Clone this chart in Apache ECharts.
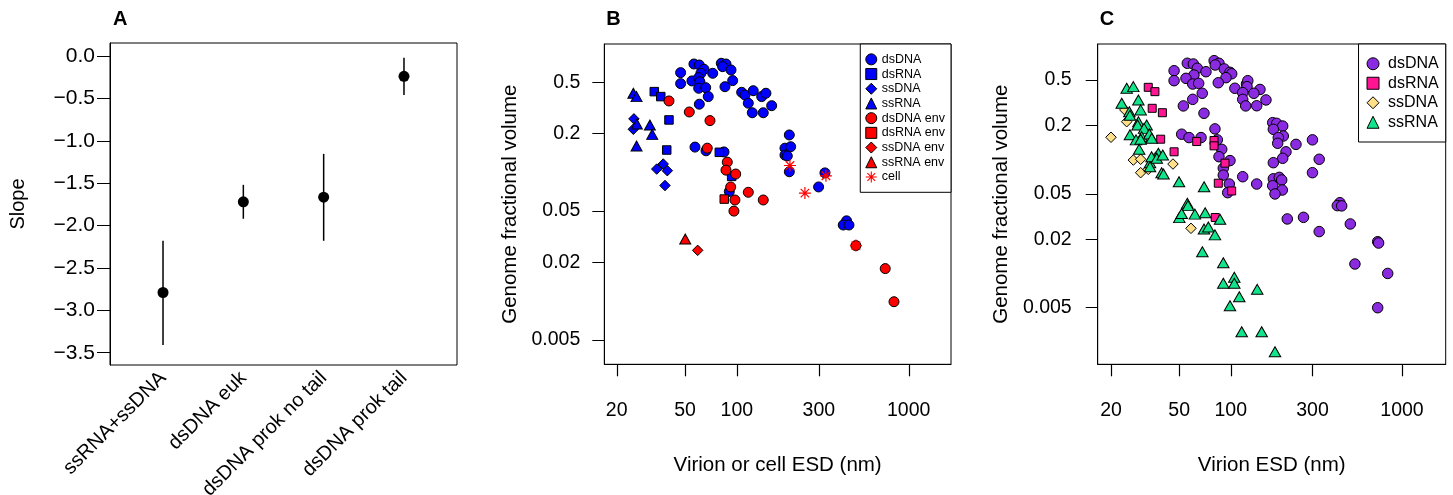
<!DOCTYPE html>
<html><head><meta charset="utf-8">
<script src="https://cdn.jsdelivr.net/npm/echarts@6.0.0/dist/echarts.min.js"></script>
<style>
html,body{margin:0;padding:0;background:#fff;}
#wrap{position:relative;width:1453px;height:495px;overflow:hidden;}
.p{position:absolute;top:0;height:495px;}
</style></head><body>
<div id="wrap">
<div id="pa" class="p" style="left:0;width:480px"></div>
<div id="pb" class="p" style="left:470px;width:530px"></div>
<div id="pc" class="p" style="left:975px;width:478px"></div>
</div>
<script>
// ---------- Panel A data ----------
const categoriesA = ['ssRNA+ssDNA', 'dsDNA euk', 'dsDNA prok no tail', 'dsDNA prok tail'];
const slopeA = [-2.79, -1.72, -1.665, -0.24];
const lowerA = [-3.41, -1.92, -2.18, -0.46];
const upperA = [-2.18, -1.52, -1.155, -0.02];
const yTicksA = [0, -0.5, -1, -1.5, -2, -2.5, -3, -3.5];

// ---------- shared tick labels for B and C ----------
const xTicksESD = [20, 50, 100, 300, 1000];
const yTicksFrac = [0.5, 0.2, 0.05, 0.02, 0.005];

// ---------- Panel B data: [ESD nm, genome fractional volume] ----------
const bDsDNA = [[47.1,0.594],[47.1,0.488],[56.3,0.693],[60.5,0.681],[64.4,0.631],[72.4,0.587],[61.8,0.587],[54.8,0.512],[60.0,0.543],[61.0,0.505],[60.0,0.449],[65.9,0.454],[68.2,0.387],[60.5,0.338],[81.2,0.702],[86.5,0.693],[82.7,0.661],[92.5,0.623],[94.6,0.515],[85.3,0.462],[106.7,0.418],[111.5,0.398],[124.6,0.430],[116.6,0.344],[123,0.290],[142.5,0.290],[139.5,0.387],[147.7,0.411],[159.5,0.329],[57.1,0.157],[66.2,0.147],[84.2,0.144],[90.4,0.071],[202,0.195],[190.6,0.154],[205.7,0.158],[190.6,0.136],[196.6,0.134],[202,0.101],[299,0.077],[325.6,0.099],[435,0.042],[416,0.039],[449,0.039]];
const bDsRNA = [[33.1,0.423],[36.1,0.387],[40.3,0.255],[39.1,0.149],[79.1,0.143],[93.3,0.093]];
const bSsDNA = [[25.2,0.260],[25.0,0.216],[37.3,0.116],[34.2,0.106],[39.4,0.103],[38.2,0.079]];
const bSsRNA = [[25.0,0.411],[26.1,0.387],[26.2,0.237],[31.2,0.233],[32.2,0.197],[26.1,0.160]];
const bDsDNAenv = [[40.3,0.358],[52.9,0.294],[69.8,0.252],[67.3,0.154],[88.0,0.120],[86.5,0.104],[98.5,0.097],[92.1,0.077],[97.5,0.061],[96.2,0.050],[116.6,0.070],[142.5,0.061],[493,0.027],[730,0.0179],[821,0.0099]];
const bDsRNAenv = [[84.5,0.062]];
const bSsDNAenv = [[59.2,0.0248]];
const bSsRNAenv = [[50.1,0.0304]];
const bCell = [[203.8,0.113],[249,0.069],[330,0.094],[493,0.027]];

// ---------- Panel C data ----------
const cDsDNA = [[46.7,0.603],[46.7,0.493],[55.8,0.701],[60.5,0.691],[63.8,0.634],[71.7,0.591],[61.0,0.553],[54.8,0.517],[60.0,0.461],[65.0,0.467],[68.2,0.382],[60.0,0.338],[52.9,0.296],[80.0,0.739],[85.4,0.701],[81.2,0.677],[91.7,0.625],[99.0,0.584],[101.3,0.567],[93.8,0.524],[84.6,0.473],[105.7,0.423],[123.6,0.461],[125.8,0.493],[124.5,0.437],[148.2,0.413],[117.5,0.387],[136.5,0.382],[117.5,0.338],[160.6,0.334],[122.3,0.296],[141.8,0.297],[69.8,0.255],[80.9,0.186],[51.7,0.167],[57.1,0.156],[67.1,0.156],[83.5,0.149],[88.6,0.123],[85.4,0.106],[99.0,0.098],[90.5,0.084],[90.5,0.073],[117.5,0.0707],[141.8,0.061],[98.1,0.061],[96.0,0.0512],[175.8,0.211],[185.5,0.208],[201.1,0.197],[177.3,0.1845],[202.7,0.161],[189.5,0.156],[188,0.139],[210.2,0.117],[240.4,0.136],[300,0.149],[201.1,0.1026],[177.3,0.0939],[328.5,0.1006],[300,0.0767],[177.3,0.0678],[192.1,0.0698],[198.4,0.0662],[175.8,0.0589],[200,0.054],[181.3,0.0499],[434,0.0418],[419,0.0394],[444.5,0.0392],[213.9,0.0301],[266,0.0311],[499,0.0272],[328.5,0.0233],[721,0.019],[730,0.0185],[531,0.0121],[825,0.01],[721,0.005]];
const cDsRNA = [[33.0,0.431],[36.1,0.395],[34.8,0.282],[39.9,0.258],[39.0,0.151],[46.7,0.117],[63.3,0.144],[79.9,0.147],[79.9,0.132],[92.6,0.093],[84.6,0.062],[101.3,0.053],[81.2,0.031]];
const cSsDNA = [[20,0.157],[24.7,0.215],[24.1,0.273],[27.0,0.099],[29.8,0.1006],[37.0,0.107],[46.0,0.0914],[29.8,0.0767],[33.0,0.0821],[58.6,0.0249]];
const cSsRNA = [[24.7,0.423],[27.0,0.437],[23.1,0.312],[28.9,0.334],[29.8,0.273],[25.6,0.263],[25.8,0.245],[28.9,0.215],[28.6,0.201],[32.3,0.201],[31.2,0.188],[25.8,0.165],[30.2,0.159],[33.5,0.168],[28.0,0.149],[29.8,0.151],[34.6,0.154],[29.2,0.123],[37.8,0.1135],[33.8,0.0939],[34.5,0.106],[37.0,0.1026],[40.1,0.1097],[39.5,0.0767],[40.5,0.0746],[33.8,0.0866],[49.9,0.0639],[69.9,0.0578],[55.8,0.0413],[56.3,0.0394],[50.1,0.0309],[51.7,0.0336],[61.8,0.0332],[70.9,0.0341],[86.6,0.0299],[69.8,0.0246],[74.0,0.0256],[80.9,0.0218],[68.3,0.0155],[90.5,0.0124],[104.9,0.00925],[90.5,0.00819],[104.9,0.00819],[142.8,0.00725],[112.2,0.00625],[99.0,0.0052],[115.9,0.00308],[151.6,0.00308],[181.3,0.00205]];

// ---------- styling ----------
const FONT = "'Liberation Sans', Arial, Helvetica, sans-serif";
const BLACK = '#000000';
const ASTERISK = 'path://M-1,-10L1,-10L1,10L-1,10Z M-10,-1L10,-1L10,1L-10,1Z M-7.78,-6.36L-6.36,-7.78L7.78,6.36L6.36,7.78Z M6.36,-7.78L7.78,-6.36L-6.36,7.78L-7.78,6.36Z';
const TICK_FS = 19.5, NAME_FS = 20.5, TICK_LEN = 12;
const AXLINE = { show: true, onZero: false, lineStyle: { color: BLACK, width: 1 } };

function fmtLog(v) { return String(Number(Math.pow(10, v).toPrecision(4))); }
const lg = (a) => a.map(Math.log10);

function scatter(name, data, symbol, size, color, border) {
  return {
    type: 'scatter', name: name, silent: true,
    data: data.map(d => [Math.log10(d[0]), Math.log10(d[1])]),
    symbol: symbol, symbolSize: size,
    itemStyle: { color: color, borderColor: BLACK, borderWidth: border ? 1 : 0, opacity: 1 },
    emphasis: { disabled: true }
  };
}

function logPanel(cfg) {
  return {
    animation: false,
    textStyle: { fontFamily: FONT },
    title: { text: cfg.letter, left: cfg.gridLeft + 2, top: 9, padding: 0,
      textStyle: { fontSize: 20, fontWeight: 'bold', color: BLACK, fontFamily: FONT } },
    grid: { left: cfg.gridLeft, top: 44, width: cfg.gridW, height: 320.3, show: true,
      borderColor: BLACK, borderWidth: 1, backgroundColor: 'transparent', outerBoundsMode: 'none' },
    xAxis: { type: 'value', min: cfg.xMin, max: cfg.xMax, position: 'bottom',
      axisLine: AXLINE, splitLine: { show: false },
      axisTick: { show: false },
      axisLabel: { customValues: lg(xTicksESD), formatter: fmtLog, margin: 36, fontSize: TICK_FS, color: BLACK, fontFamily: FONT },
      name: cfg.xName, nameLocation: 'middle', nameGap: 90.5,
      nameTextStyle: { fontSize: NAME_FS, color: BLACK, fontFamily: FONT } },
    yAxis: { type: 'value', min: cfg.yMin, max: cfg.yMax, position: 'left',
      axisLine: AXLINE, splitLine: { show: false },
      axisTick: { show: true, inside: false, length: TICK_LEN, customValues: lg(yTicksFrac), lineStyle: { color: BLACK, width: 1 } },
      axisLabel: { customValues: lg(yTicksFrac), formatter: fmtLog, margin: cfg.yMargin, fontSize: TICK_FS, color: BLACK, fontFamily: FONT },
      name: 'Genome fractional volume', nameLocation: 'middle', nameGap: cfg.yNameGap,
      nameTextStyle: { fontSize: NAME_FS, color: BLACK, fontFamily: FONT } },
    legend: cfg.legend,
    series: cfg.series
  };
}

// x-axis tick marks: positions come from the chart's own x scale via convertToPixel
function addXTicks(chart, yBottom) {
  const lines = xTicksESD.map(function (t) {
    const p = chart.convertToPixel({ gridIndex: 0 }, [Math.log10(t), yBottom]);
    const x = Math.round(p[0]) + 0.5;
    return { type: 'line', silent: true, z: 100,
      shape: { x1: x, y1: p[1], x2: x, y2: p[1] + TICK_LEN },
      style: { stroke: BLACK, lineWidth: 1.2 } };
  });
  chart.setOption({ graphic: lines });
}

// ---------- Panel A ----------
const chartA = echarts.init(document.getElementById('pa'), null, { renderer: 'canvas' });
chartA.setOption({
  animation: false,
  textStyle: { fontFamily: FONT },
  title: { text: 'A', left: 113, top: 9, padding: 0,
    textStyle: { fontSize: 20, fontWeight: 'bold', color: BLACK, fontFamily: FONT } },
  grid: { left: 110, top: 43, width: 347, height: 322, show: true, borderColor: BLACK, borderWidth: 1,
    backgroundColor: 'transparent', outerBoundsMode: 'none' },
  xAxis: { type: 'value', min: 0.34, max: 4.66, position: 'bottom',
    axisLine: { show: false, onZero: false }, splitLine: { show: false }, axisTick: { show: false },
    axisLabel: { customValues: [1, 2, 3, 4], formatter: v => categoriesA[Math.round(v) - 1],
      rotate: 45, margin: 10, fontSize: 20, color: BLACK, fontFamily: FONT } },
  yAxis: { type: 'value', min: -3.645, max: 0.153, position: 'left',
    axisLine: AXLINE, splitLine: { show: false },
    axisTick: { show: true, inside: false, length: 13, customValues: yTicksA, lineStyle: { color: BLACK, width: 1 } },
    axisLabel: { customValues: yTicksA,
      formatter: v => (Math.abs(v) < 1e-9 ? '0.0' : (v < 0 ? '\u2212' : '') + Math.abs(v).toFixed(1)),
      margin: 15, fontSize: 21, color: BLACK, fontFamily: FONT },
    name: 'Slope', nameLocation: 'middle', nameGap: 82,
    nameTextStyle: { fontSize: 20, color: BLACK, fontFamily: FONT } },
  series: [
    { type: 'custom', silent: true, z: 1,
      data: categoriesA.map((c, i) => [i + 1, lowerA[i], upperA[i]]),
      encode: { x: 0, y: [1, 2] },
      renderItem: function (params, api) {
        const p1 = api.coord([api.value(0), api.value(1)]);
        const p2 = api.coord([api.value(0), api.value(2)]);
        return { type: 'line', shape: { x1: p1[0], y1: p1[1], x2: p2[0], y2: p2[1] },
          style: { stroke: BLACK, lineWidth: 1.5 } };
      } },
    { type: 'scatter', silent: true, z: 2,
      data: slopeA.map((v, i) => [i + 1, v]), symbol: 'circle', symbolSize: 11,
      itemStyle: { color: BLACK, opacity: 1 } }
  ]
});

// ---------- Panel B ----------
const BLUE = '#0000FF', RED = '#FF0000';
const legendItem = (name, icon, color, border) => ({ name: name, icon: icon,
  itemStyle: { color: color, borderColor: BLACK, borderWidth: border ? 1 : 0 } });
const chartB = echarts.init(document.getElementById('pb'), null, { renderer: 'canvas' });
const B_YMIN = -2.49;
chartB.setOption(logPanel({
  letter: 'B', gridLeft: 134.3, gridW: 346.7,
  xMin: 1.229, xMax: 3.246, yMin: B_YMIN, yMax: -0.004,
  yMargin: 24, yNameGap: 81,
  xName: 'Virion or cell ESD (nm)',
  legend: { orient: 'vertical', right: 49, top: 44, itemWidth: 11, itemHeight: 11, itemGap: 0,
    padding: [8, 6, 8, 5], borderColor: BLACK, borderWidth: 1, selectedMode: false,
    backgroundColor: '#fff',
    textStyle: { fontSize: 12.5, lineHeight: 14.7, color: BLACK, fontFamily: FONT },
    data: [
      legendItem('dsDNA', 'circle', BLUE, true),
      legendItem('dsRNA', 'rect', BLUE, true),
      legendItem('ssDNA', 'diamond', BLUE, true),
      legendItem('ssRNA', 'triangle', BLUE, true),
      legendItem('dsDNA env', 'circle', RED, true),
      legendItem('dsRNA env', 'rect', RED, true),
      legendItem('ssDNA env', 'diamond', RED, true),
      legendItem('ssRNA env', 'triangle', RED, true),
      legendItem('cell', ASTERISK, RED, false)
    ] },
  series: [
    scatter('dsDNA', bDsDNA, 'circle', 10, BLUE, true),
    scatter('dsRNA', bDsRNA, 'rect', 8.5, BLUE, true),
    scatter('ssDNA', bSsDNA, 'diamond', 10.5, BLUE, true),
    scatter('ssRNA', bSsRNA, 'triangle', [11, 10], BLUE, true),
    scatter('dsDNA env', bDsDNAenv, 'circle', 10, RED, true),
    scatter('dsRNA env', bDsRNAenv, 'rect', 8.5, RED, true),
    scatter('ssDNA env', bSsDNAenv, 'diamond', 10.5, RED, true),
    scatter('ssRNA env', bSsRNAenv, 'triangle', [11, 10], RED, true),
    scatter('cell', bCell, ASTERISK, 12, RED, false)
  ]
}));
addXTicks(chartB, B_YMIN);

// ---------- Panel C ----------
const PURPLE = '#8A2BE2', PINK = '#FF1493', YELLOW = '#FFE08A', GREEN = '#12E48C';
const chartC = echarts.init(document.getElementById('pc'), null, { renderer: 'canvas' });
const C_YMIN = -2.798;
chartC.setOption(logPanel({
  letter: 'C', gridLeft: 122.7, gridW: 348,
  xMin: 1.2234, xMax: 3.255, yMin: C_YMIN, yMax: 0.015,
  yMargin: 26, yNameGap: 80.5,
  xName: 'Virion ESD (nm)',
  legend: { orient: 'vertical', right: 7.3, top: 44, itemWidth: 12, itemHeight: 12, itemGap: 0,
    padding: [10, 7, 10, 8], borderColor: BLACK, borderWidth: 1, selectedMode: false,
    backgroundColor: '#fff',
    textStyle: { fontSize: 16, lineHeight: 19.5, color: BLACK, fontFamily: FONT, padding: [0, 0, 0, 4] },
    data: [
      legendItem('dsDNA', 'circle', PURPLE, true),
      legendItem('dsRNA', 'rect', PINK, true),
      legendItem('ssDNA', 'diamond', YELLOW, true),
      legendItem('ssRNA', 'triangle', GREEN, true)
    ] },
  series: [
    scatter('dsDNA', cDsDNA, 'circle', 10.5, PURPLE, true),
    scatter('dsRNA', cDsRNA, 'rect', 8, PINK, true),
    scatter('ssDNA', cSsDNA, 'diamond', 10.5, YELLOW, true),
    scatter('ssRNA', cSsRNA, 'triangle', [11.5, 10], GREEN, true)
  ]
}));
addXTicks(chartC, C_YMIN);
</script>
</body></html>
